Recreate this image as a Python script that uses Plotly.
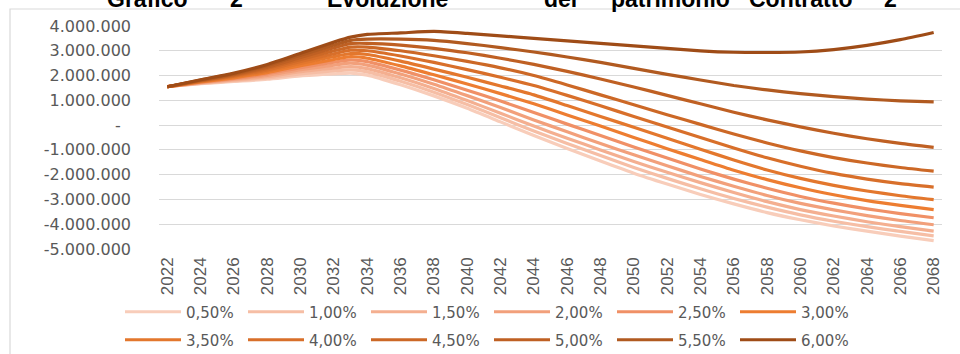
import plotly.graph_objects as go

years = [2022, 2024, 2026, 2028, 2030, 2032, 2033, 2034, 2036, 2038, 2040, 2042, 2044,
         2046, 2048, 2050, 2052, 2054, 2056, 2058, 2060, 2062, 2064, 2066, 2068]

# values in millions of euro
s_050 = [1.55, 1.67, 1.76, 1.85, 1.99, 2.07, 2.10, 2.02, 1.63, 1.18, 0.68, 0.13, -0.42,
         -0.94, -1.45, -1.94, -2.38, -2.80, -3.18, -3.53, -3.82, -4.07, -4.28, -4.48, -4.66]
s_100 = [1.55, 1.68, 1.79, 1.90, 2.07, 2.19, 2.23, 2.15, 1.77, 1.33, 0.83, 0.30, -0.24,
         -0.74, -1.23, -1.71, -2.15, -2.57, -2.96, -3.31, -3.62, -3.88, -4.10, -4.29, -4.47]
s_150 = [1.55, 1.70, 1.82, 1.96, 2.16, 2.30, 2.36, 2.28, 1.91, 1.48, 0.99, 0.48, -0.04,
         -0.53, -1.00, -1.47, -1.90, -2.32, -2.72, -3.09, -3.41, -3.67, -3.90, -4.10, -4.28]
s_200 = [1.55, 1.71, 1.85, 2.01, 2.24, 2.42, 2.50, 2.42, 2.06, 1.65, 1.19, 0.71, 0.21,
         -0.27, -0.74, -1.20, -1.64, -2.07, -2.47, -2.84, -3.16, -3.42, -3.65, -3.85, -4.02]
s_250 = [1.55, 1.73, 1.88, 2.07, 2.32, 2.54, 2.63, 2.56, 2.22, 1.83, 1.41, 0.97, 0.51,
         0.04, -0.42, -0.88, -1.33, -1.77, -2.18, -2.55, -2.88, -3.15, -3.38, -3.57, -3.74]
s_300 = [1.55, 1.74, 1.91, 2.12, 2.40, 2.65, 2.76, 2.70, 2.39, 2.03, 1.66, 1.27, 0.86,
         0.41, -0.04, -0.50, -0.95, -1.39, -1.82, -2.20, -2.53, -2.81, -3.05, -3.24, -3.41]
s_350 = [1.55, 1.76, 1.95, 2.18, 2.49, 2.77, 2.89, 2.85, 2.58, 2.26, 1.93, 1.58, 1.22,
         0.79, 0.35, -0.09, -0.53, -0.97, -1.41, -1.81, -2.15, -2.43, -2.66, -2.85, -3.01]
s_400 = [1.55, 1.77, 1.98, 2.23, 2.57, 2.88, 3.02, 3.00, 2.79, 2.53, 2.24, 1.93, 1.60,
         1.20, 0.78, 0.35, -0.08, -0.50, -0.92, -1.32, -1.66, -1.95, -2.18, -2.36, -2.50]
s_450 = [1.55, 1.79, 2.01, 2.29, 2.65, 3.00, 3.15, 3.15, 3.00, 2.80, 2.57, 2.31, 2.00,
         1.62, 1.22, 0.82, 0.42, 0.03, -0.36, -0.72, -1.04, -1.31, -1.53, -1.71, -1.86]
s_500 = [1.55, 1.80, 2.04, 2.34, 2.73, 3.12, 3.29, 3.30, 3.23, 3.10, 2.92, 2.70, 2.45,
         2.17, 1.86, 1.54, 1.20, 0.86, 0.52, 0.21, -0.07, -0.33, -0.55, -0.74, -0.90]
s_550 = [1.55, 1.82, 2.07, 2.40, 2.82, 3.23, 3.42, 3.47, 3.47, 3.42, 3.29, 3.13, 2.95,
         2.75, 2.53, 2.29, 2.05, 1.82, 1.60, 1.42, 1.27, 1.15, 1.05, 0.98, 0.94]
s_600 = [1.55, 1.83, 2.10, 2.45, 2.90, 3.35, 3.55, 3.66, 3.72, 3.78, 3.70, 3.60, 3.50,
         3.40, 3.30, 3.20, 3.10, 3.00, 2.94, 2.93, 2.95, 3.05, 3.22, 3.45, 3.74]

series_names = ["0,50%", "1,00%", "1,50%", "2,00%", "2,50%", "3,00%",
                "3,50%", "4,00%", "4,50%", "5,00%", "5,50%", "6,00%"]
series_values = [s_050, s_100, s_150, s_200, s_250, s_300,
                 s_350, s_400, s_450, s_500, s_550, s_600]
series_colors = ["#F8CDBA", "#F6BEA5", "#F4AF90", "#F2A07B", "#F09066", "#ED7D31",
                 "#E3772D", "#D86F2A", "#CC6826", "#BF6023", "#B15A20", "#9F4C17"]

x_ticks = [2022, 2024, 2026, 2028, 2030, 2032, 2034, 2036, 2038, 2040, 2042, 2044,
           2046, 2048, 2050, 2052, 2054, 2056, 2058, 2060, 2062, 2064, 2066, 2068]
y_ticks = [4, 3, 2, 1, 0, -1, -2, -3, -4, -5]
y_labels = ["4.000.000", "3.000.000", "2.000.000", "1.000.000", "-\u00a0\u00a0",
            "-1.000.000", "-2.000.000", "-3.000.000", "-4.000.000", "-5.000.000"]

# title words (the chart title is cropped at the top of the picture)
title_words = ["Grafico", "2", "Evoluzione", "del", "patrimonio", "Contratto", "2"]
title_x_px = [147, 236, 387, 560, 670, 800, 890]

W, H = 960, 354
ML, MR, MT, MB = 159, 18, 26, 105
PW = W - ML - MR
PH = H - MT - MB


def px_x(px):
    return (px - ML) / PW


def px_y(py):
    return (H - MB - py) / PH


fig = go.Figure()
for i, (name, vals, col) in enumerate(zip(series_names, series_values, series_colors)):
    fig.add_trace(go.Scatter(
        x=years, y=vals, name=name, mode="lines",
        line=dict(color=col, width=3.2, shape="spline", smoothing=0.6),
        legend="legend" if i < 6 else "legend2",
        hoverinfo="skip",
    ))

legend_common = dict(
    orientation="h", xanchor="left", yanchor="middle",
    font=dict(family="DejaVu Sans", size=15, color="#595959"),
    bgcolor="rgba(0,0,0,0)", itemwidth=56, entrywidth=52, entrywidthmode="pixels",
    traceorder="normal", itemclick=False, itemdoubleclick=False,
)

annotations = []
for word, xp in zip(title_words, title_x_px):
    annotations.append(dict(
        text=word, x=px_x(xp), y=px_y(-1.2), xref="paper", yref="paper",
        xanchor="center", yanchor="middle", showarrow=False,
        font=dict(family="Liberation Sans", size=23, color="#000000", weight="bold"),
    ))

fig.update_layout(
    width=W, height=H,
    margin=dict(l=ML, r=MR, t=MT, b=MB, autoexpand=False),
    paper_bgcolor="#FFFFFF", plot_bgcolor="#FFFFFF",
    showlegend=True,
    legend=dict(x=px_x(120), y=px_y(312), **legend_common),
    legend2=dict(x=px_x(120), y=px_y(340), **legend_common),
    annotations=annotations,
    shapes=[dict(type="rect", xref="paper", yref="paper",
                 x0=px_x(10), x1=px_x(975), y0=px_y(370), y1=px_y(9),
                 line=dict(color="#D9D9D9", width=1.2), fillcolor="rgba(0,0,0,0)",
                 layer="below")],
    xaxis=dict(
        range=[2021.5, 2068.5], tickmode="array", tickvals=x_ticks,
        ticktext=[str(v) for v in x_ticks], tickangle=-90,
        tickfont=dict(family="Liberation Sans Narrow, Liberation Sans", size=17, color="#595959"),
        showgrid=False, zeroline=False, showline=False, ticks="", ticklabelstandoff=4,
    ),
    yaxis=dict(
        range=[-5, 4], tickmode="array", tickvals=y_ticks, ticktext=y_labels,
        tickfont=dict(family="DejaVu Sans", size=16, color="#595959"),
        showgrid=True, gridcolor="#D9D9D9", gridwidth=1.2, zeroline=False,
        showline=False, ticks="", ticklabelstandoff=27,
    ),
)

fig.write_html("out.html")
